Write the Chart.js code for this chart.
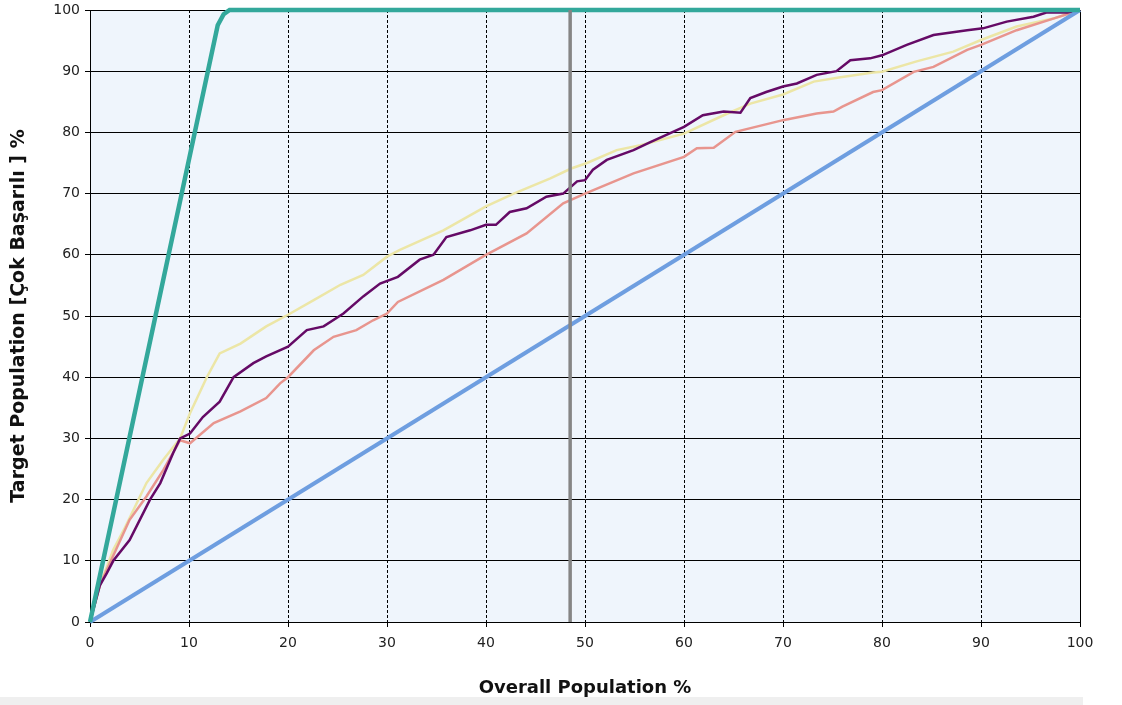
<!DOCTYPE html>
<html>
<head>
<meta charset="utf-8">
<title>Lift chart</title>
<script src="https://cdn.jsdelivr.net/npm/chart.js@4/dist/chart.umd.min.js"></script>
<style>
  html, body { margin: 0; padding: 0; background: #fff; }
  #wrap { width: 1122px; height: 705px; }
</style>
</head>
<body>
<div id="wrap"><canvas id="chart" width="1122" height="705"></canvas></div>
<script>
// values (overall population %, target population %)
const xTicks = [0, 10, 20, 30, 40, 50, 60, 70, 80, 90, 100];
const yTicks = [0, 10, 20, 30, 40, 50, 60, 70, 80, 90, 100];

const idealX = [0, 12.9, 13.5, 14.1, 100];
const idealY = [0, 97.5, 99.3, 100, 100];

const randomX = [0, 100];
const randomY = [0, 100];

const cutoffX = [48.5, 48.5];
const cutoffY = [0, 100];

const purpleX = [0, 1, 1.7, 2.35, 4, 6.06, 7.1, 8.4, 9.1, 10.1, 11.4, 13.1, 14.5, 16.5, 17.8, 20, 21.9, 23.6, 25.6, 27.6, 29.3, 31.1, 33.3, 34.7, 36, 38.4, 40, 41, 42.4, 44.1, 46.1, 47.8, 49.2, 50, 50.8, 52.2, 54.9, 56.6, 60, 61.9, 64, 65.7, 66.7, 68.3, 70, 71.4, 73.4, 75.4, 76.8, 78.8, 80, 82.5, 85.2, 88.6, 90.2, 92.6, 95.3, 96.6, 98.7, 100];
const purpleY = [0, 6, 8, 10, 13.4, 20, 22.7, 27.6, 30, 30.8, 33.5, 36, 40, 42.3, 43.4, 45, 47.7, 48.3, 50.4, 53.2, 55.3, 56.4, 59.2, 60, 62.9, 64, 64.9, 64.9, 67, 67.6, 69.5, 70, 72, 72.2, 73.9, 75.5, 77.1, 78.4, 80.9, 82.8, 83.4, 83.2, 85.6, 86.6, 87.5, 88, 89.4, 90, 91.8, 92.1, 92.6, 94.3, 95.9, 96.7, 97, 98.1, 98.9, 99.6, 99.6, 100];

const salmonX = [0, 1, 2, 4, 5.7, 7.4, 9.1, 10.1, 12.5, 15.2, 17.8, 19.2, 20, 22.6, 24.6, 26.9, 28.6, 30, 31.1, 35.7, 39.9, 44.1, 47.8, 50, 54.9, 60, 61.3, 63, 65.2, 70, 73.4, 75.1, 76, 79.1, 80, 83.2, 85.2, 88.6, 90, 93.6, 97.3, 100];
const salmonY = [0, 6, 9.6, 16.7, 20.5, 24.8, 29.7, 29.2, 32.5, 34.4, 36.6, 39, 40, 44.4, 46.6, 47.7, 49.3, 50.4, 52.3, 55.9, 59.9, 63.5, 68.4, 70, 73.3, 76, 77.4, 77.5, 80.1, 82, 83.1, 83.4, 84.2, 86.6, 86.9, 89.9, 90.7, 93.5, 94.3, 96.7, 98.6, 100];

const yellowX = [0, 1, 2.35, 3.4, 5.7, 7.4, 9.1, 10.1, 11.8, 13.1, 15.2, 17.8, 20, 22.6, 25.3, 27.6, 30, 31.3, 35.7, 40, 42.8, 46.5, 48.6, 50.2, 53.2, 55.6, 60, 64, 66.7, 70, 73.1, 75.8, 79.1, 80, 83.5, 87.2, 90, 93.6, 97.3, 100];
const yellowY = [0, 6, 11.8, 15, 22.7, 26.5, 30, 34.1, 40, 43.9, 45.5, 48.3, 50.2, 52.6, 55.1, 56.7, 59.7, 60.8, 64, 67.9, 70, 72.5, 74.1, 75, 77.1, 77.9, 79.8, 82.8, 84.7, 86.2, 88.3, 89, 89.8, 89.9, 91.6, 93.2, 95.1, 97.3, 98.6, 100];

function pairs(xs, ys) {
    return xs.map(function(x, i) { return {x: x, y: ys[i]}; });
}

function lineSet(label, xs, ys, color, width) {
    return {label: label, data: pairs(xs, ys), borderColor: color, borderWidth: width,
            pointRadius: 0, tension: 0, fill: false, clip: 4};
}

// plot background, solid right edge and the grey strip at the bottom
const framePlugin = {
    id: 'frame',
    beforeDraw: function(chart) {
        const ctx = chart.ctx, a = chart.chartArea;
        ctx.save();
        ctx.fillStyle = '#eff5fc';
        ctx.fillRect(a.left, a.top, a.right - a.left, a.bottom - a.top);
        ctx.fillStyle = '#efefef';
        ctx.fillRect(0, 697, 1083, 8);
        ctx.restore();
    },
    beforeDatasetsDraw: function(chart) {
        const ctx = chart.ctx, a = chart.chartArea;
        ctx.save();
        ctx.strokeStyle = '#000';
        ctx.lineWidth = 1;
        ctx.beginPath();
        ctx.moveTo(a.right + 0.5, a.top);
        ctx.lineTo(a.right + 0.5, a.bottom + 5);
        ctx.stroke();
        ctx.restore();
    }
};

const tickFont = {family: 'DejaVu Sans', size: 14};

new Chart(document.getElementById('chart'), {
    type: 'line',
    data: {
        datasets: [
            lineSet('Cutoff', cutoffX, cutoffY, '#858585', 3.5),
            lineSet('Ideal', idealX, idealY, '#33a89b', 4.5),
            lineSet('Random', randomX, randomY, '#6e9ee0', 4),
            lineSet('Model 1', purpleX, purpleY, '#650a66', 2.5),
            lineSet('Model 2', salmonX, salmonY, '#e8958e', 2.5),
            lineSet('Model 3', yellowX, yellowY, '#ece6a6', 2.5)
        ]
    },
    options: {
        responsive: false,
        animation: false,
        layout: {padding: {left: 0, right: 42, top: 10, bottom: 0}},
        plugins: {legend: {display: false}, tooltip: {enabled: false}},
        scales: {
            x: {
                type: 'linear',
                min: 0,
                max: 100,
                afterBuildTicks: function(scale) { scale.ticks = xTicks.map(function(v) { return {value: v}; }); },
                afterFit: function(scale) { scale.height = 83; },
                ticks: {font: tickFont, color: '#222', padding: 8, maxRotation: 0},
                grid: {color: '#000', lineWidth: 1, tickLength: 5, tickColor: '#000', tickBorderDash: [1, 0]},
                border: {display: true, color: '#000', width: 1, dash: [3, 2]},
                title: {display: true, text: 'Overall Population %', color: '#111',
                        font: {family: 'DejaVu Sans', size: 18, weight: 'bold'}, padding: {top: 0, bottom: 6}}
            },
            y: {
                type: 'linear',
                min: 0,
                max: 100,
                afterBuildTicks: function(scale) { scale.ticks = yTicks.map(function(v) { return {value: v}; }); },
                afterFit: function(scale) { scale.width = 90; scale.paddingTop = 0; scale.paddingBottom = 0; },
                ticks: {font: tickFont, color: '#222', padding: 5},
                grid: {color: '#000', lineWidth: 1, tickLength: 5, tickColor: '#000'},
                border: {display: true, color: '#000', width: 1},
                title: {display: true, text: 'Target Population [Çok Başarılı ] %', color: '#111',
                        font: {family: 'DejaVu Sans', size: 19, weight: 'bold'}, padding: {top: 8, bottom: 0}}
            }
        }
    },
    plugins: [framePlugin]
});
</script>
</body>
</html>
